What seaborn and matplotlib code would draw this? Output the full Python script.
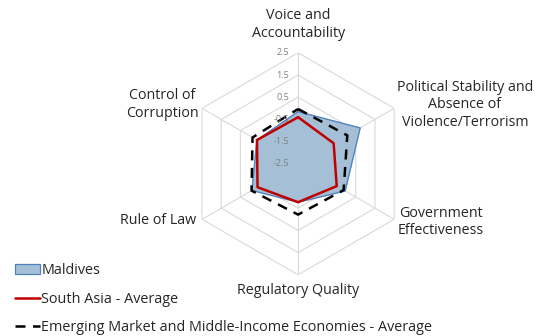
import numpy as np
import pandas as pd
import seaborn as sns
import matplotlib.pyplot as plt
import matplotlib.transforms as mtransforms
from matplotlib.patches import Patch
from matplotlib.lines import Line2D

categories = ["Voice and Accountability",
              "Political Stability and Absence of Violence/Terrorism",
              "Government Effectiveness", "Regulatory Quality",
              "Rule of Law", "Control of Corruption"]
maldives = [-0.15, 0.73, -0.05, -0.77, -0.1, -0.36]
south_asia = [-0.4, -0.65, -0.49, -0.77, -0.39, -0.36]
emmie = [-0.03, 0.06, -0.13, -0.21, -0.08, -0.13]
ticks = [-2.5, -1.5, -0.5, 0.5, 1.5, 2.5]

sns.set_style("white")
plt.rcParams['font.family'] = ['Open Sans', 'DejaVu Sans']

fig = plt.figure(figsize=(5.4, 3.36), dpi=100)
ax = fig.add_axes([0.3465, 0.182, 0.411, 0.661], projection='polar')
ax.set_theta_zero_location('N')
ax.set_theta_direction(-1)

n = len(categories)
theta = np.linspace(0, 2 * np.pi, n, endpoint=False)
theta_c = np.append(theta, theta[0])

def closed(v):
    return np.append(v, v[0])

# hexagon grid
for t in ticks[1:]:
    ax.plot(theta_c, [t] * (n + 1), color='#d9d9d9', lw=0.8, zorder=0)
for th in theta:
    ax.plot([th, th], [ticks[0], ticks[-1]], color='#d9d9d9', lw=0.8, zorder=0)

ax.fill(theta_c, closed(maldives), color='#a5bfd6', alpha=1, zorder=1)
ax.plot(theta_c, closed(maldives), color='#4f81bd', lw=0.9, zorder=2)

df_sa = pd.DataFrame({'theta': theta_c, 'val': closed(south_asia)})
df_em = pd.DataFrame({'theta': theta_c, 'val': closed(emmie)})
sns.lineplot(data=df_sa, x='theta', y='val', sort=False, estimator=None,
             color='#c00000', lw=1.8, ax=ax, zorder=4)
sns.lineplot(data=df_em, x='theta', y='val', sort=False, estimator=None,
             color='black', lw=1.8, ax=ax, zorder=3, linestyle=(0, (4, 3)))

ax.set_ylim(-2.5, 2.5)
ax.grid(False)
ax.spines['polar'].set_visible(False)
ax.set_xticks([])
ax.set_yticks([])
ax.set_xlabel('')
ax.set_ylabel('')
shift = mtransforms.offset_copy(ax.transData, fig=fig, x=-9, y=0, units='dots')
for t in ticks:
    ax.text(0.0, t, f"{t:.1f}", ha='right', va='center', fontsize=6.5,
            color='#7f7f7f', transform=shift, zorder=3.5)

labels = [("Voice and\nAccountability", 0.552, 0.926),
          ("Political Stability and\nAbsence of\nViolence/Terrorism", 0.861, 0.6875),
          ("Government\nEffectiveness", 0.817, 0.339),
          ("Regulatory Quality", 0.552, 0.134),
          ("Rule of Law", 0.293, 0.345),
          ("Control of\nCorruption", 0.30, 0.69)]
for txt, x, y in labels:
    fig.text(x, y, txt, ha='center', va='center', fontsize=10.3,
             color='#262626', linespacing=1.25)

handles = [Patch(facecolor='#a5bfd6', edgecolor='#4f81bd', lw=0.9),
           Line2D([], [], color='#c00000', lw=1.8),
           Line2D([], [], color='black', lw=1.8, linestyle=(0, (4, 3)))]
names = ["Maldives", "South Asia - Average",
         "Emerging Market and Middle-Income Economies - Average"]
fig.legend(handles, names, loc='lower left', bbox_to_anchor=(0.012, -0.024),
           frameon=False, fontsize=10.4, handlelength=1.7, handletextpad=0.1,
           labelspacing=0.94, borderaxespad=0.2)

fig.savefig("out.png", dpi=100)
